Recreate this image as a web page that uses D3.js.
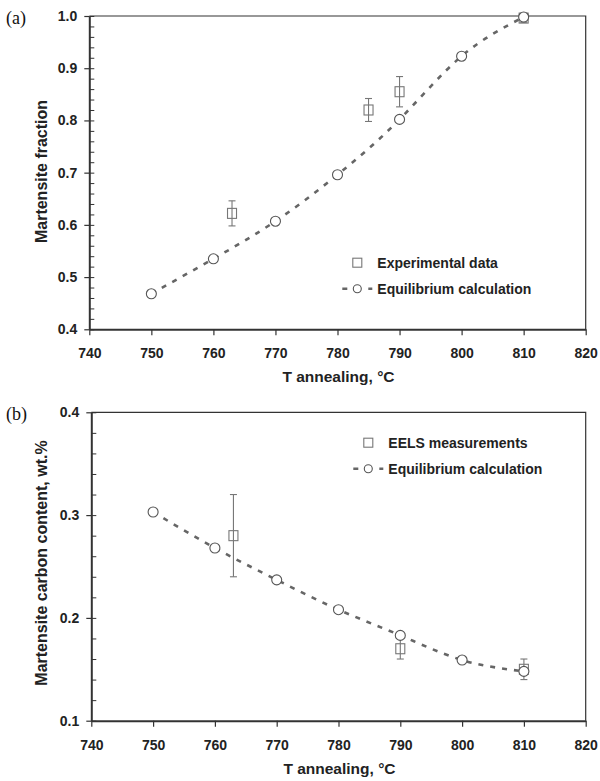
<!DOCTYPE html>
<html>
<head>
<meta charset="utf-8">
<script src="https://cdn.jsdelivr.net/npm/d3@7"></script>
<style>
  body { margin: 0; background: #fff; }
  svg text { font-family: "Liberation Sans", Arial, sans-serif; font-weight: bold; fill: #222; }
  svg text.letter { font-family: "Liberation Serif", "Times New Roman", serif; font-weight: normal; fill: #111; }
</style>
</head>
<body>
<div id="chart"></div>
<script>
// Annealing temperatures for the calculation curve
var eqTemps = [750, 760, 770, 780, 790, 800, 810];
// (a) martensite fraction
var eqFraction = [0.468, 0.535, 0.607, 0.696, 0.802, 0.923, 0.998];
var expTemps = [763, 785, 790, 810];
var expFraction = [0.622, 0.820, 0.855, 0.996];
var expFractionErr = [0.024, 0.022, 0.029, 0.008];
// (b) martensite carbon content
var eqCarbon = [0.303, 0.268, 0.237, 0.208, 0.183, 0.159, 0.148];
var eelsTemps = [763, 790, 810];
var eelsCarbon = [0.280, 0.170, 0.150];
var eelsErr = [0.040, 0.010, 0.010];

var xTicks = [740, 750, 760, 770, 780, 790, 800, 810, 820];
var yTicksA = [0.4, 0.5, 0.6, 0.7, 0.8, 0.9, 1.0];
var yTicksB = [0.1, 0.2, 0.3, 0.4];

var svgWidth = 600;
var svgHeight = 781;

var svg = d3.select("#chart")
  .append("svg")
  .attr("width", svgWidth)
  .attr("height", svgHeight);

// draw one panel
function panel(opts) {
  var x = d3.scaleLinear().domain([740, 820]).range([opts.left, opts.right]);
  var y = d3.scaleLinear().domain(opts.yDomain).range([opts.bottom, opts.top]);
  var g = svg.append("g");

  // frame top / right
  g.append("path")
    .attr("d", `M${opts.left},${opts.top}H${opts.right}V${opts.bottom}`)
    .attr("fill", "none")
    .attr("stroke", "#333")
    .attr("stroke-width", 1.2);

  // minor y ticks, inside
  var minor = d3.range(opts.yDomain[0], opts.yDomain[1] + 1e-9, opts.minorStep);
  g.append("g")
    .attr("transform", `translate(${opts.left},0)`)
    .call(d3.axisLeft(y).tickValues(minor).tickSize(-5).tickSizeOuter(0).tickFormat(""))
    .call(a => a.select(".domain").remove())
    .selectAll("line").attr("stroke", "#333");

  // y axis
  var yAxis = g.append("g")
    .attr("transform", `translate(${opts.left},0)`)
    .call(d3.axisLeft(y).tickValues(opts.yTicks).tickSize(5).tickSizeOuter(0)
      .tickPadding(7).tickFormat(d3.format(".1f")));
  yAxis.select(".domain").attr("stroke", "#333").attr("stroke-width", 2);
  yAxis.selectAll("line").attr("stroke", "#333").attr("stroke-width", 1.2);
  yAxis.selectAll("text").style("font-size", "14px");

  // x axis
  var xAxis = g.append("g")
    .attr("transform", `translate(0,${opts.bottom})`)
    .call(d3.axisBottom(x).tickValues(xTicks).tickSize(6).tickSizeOuter(0).tickPadding(13));
  xAxis.select(".domain").attr("stroke", "#333").attr("stroke-width", 2);
  xAxis.selectAll("line").attr("stroke", "#333").attr("stroke-width", 1.2);
  xAxis.selectAll("text").style("font-size", "14px");

  // axis titles
  g.append("text")
    .attr("x", (opts.left + opts.right) / 2 + 1)
    .attr("y", opts.bottom + 53)
    .attr("text-anchor", "middle")
    .style("font-size", "15.5px")
    .text("T annealing, °C");
  g.append("text")
    .attr("transform", `translate(47,${opts.yTitleMid}) rotate(-90)`)
    .attr("text-anchor", "middle")
    .style("font-size", "16px")
    .text(opts.yTitle);

  // panel letter
  g.append("text")
    .attr("class", "letter")
    .attr("x", 6).attr("y", opts.top + 8)
    .style("font-size", "18px")
    .text(opts.letter);

  // calculation curve
  var eq = eqTemps.map((t, i) => [t, opts.eqValues[i]]);
  var line = d3.line().x(d => x(d[0])).y(d => y(d[1])).curve(d3.curveNatural);
  g.append("path")
    .datum(eq)
    .attr("d", line)
    .attr("fill", "none")
    .attr("stroke", "#666")
    .attr("stroke-width", 2.6)
    .attr("stroke-dasharray", "5,7");

  // error bars
  var exp = opts.expT.map((t, i) => ({ t: t, v: opts.expV[i], e: opts.expE[i] }));
  var eb = g.append("g").attr("stroke", "#777").attr("stroke-width", 1.1);
  eb.selectAll(".v").data(exp).join("line")
    .attr("x1", d => x(d.t)).attr("x2", d => x(d.t))
    .attr("y1", d => y(d.v - d.e)).attr("y2", d => y(d.v + d.e));
  eb.selectAll(".c1").data(exp).join("line")
    .attr("x1", d => x(d.t) - 3.5).attr("x2", d => x(d.t) + 3.5)
    .attr("y1", d => y(d.v + d.e)).attr("y2", d => y(d.v + d.e));
  eb.selectAll(".c2").data(exp).join("line")
    .attr("x1", d => x(d.t) - 3.5).attr("x2", d => x(d.t) + 3.5)
    .attr("y1", d => y(d.v - d.e)).attr("y2", d => y(d.v - d.e));

  // squares
  g.selectAll(".sq").data(exp).join("rect")
    .attr("x", d => x(d.t) - 4.5).attr("y", d => y(d.v) - 5)
    .attr("width", 9).attr("height", 10)
    .attr("fill", "none").attr("stroke", "#777").attr("stroke-width", 1.1);

  // circles
  g.selectAll(".ci").data(eq).join("circle")
    .attr("cx", d => x(d[0])).attr("cy", d => y(d[1])).attr("r", 5)
    .attr("fill", "#fff").attr("stroke", "#555").attr("stroke-width", 1.1);

  // legend
  var lg = g.append("g").attr("transform", `translate(${opts.legX},${opts.legY})`);
  lg.append("rect").attr("x", -4.5).attr("y", -4.5).attr("width", 9).attr("height", 9)
    .attr("fill", "none").attr("stroke", "#777").attr("stroke-width", 1.1);
  lg.append("text").attr("x", 20).attr("y", 5)
    .style("font-size", "14px")
    .text(opts.expLabel);
  lg.append("line").attr("x1", -15).attr("x2", 15).attr("y1", 26).attr("y2", 26)
    .attr("stroke", "#666").attr("stroke-width", 2.6).attr("stroke-dasharray", "5,21");
  lg.append("circle").attr("cx", 0).attr("cy", 26).attr("r", 4)
    .attr("fill", "#fff").attr("stroke", "#555").attr("stroke-width", 1.1);
  lg.append("text").attr("x", 20).attr("y", 31)
    .style("font-size", "14px")
    .text("Equilibrium calculation");
}

panel({
  left: 89.3, right: 585.7, top: 16, bottom: 329.3,
  yDomain: [0.4, 1.0], yTicks: yTicksA, minorStep: 0.02,
  yTitle: "Martensite fraction", yTitleMid: 171.5, letter: "(a)",
  eqValues: eqFraction, expT: expTemps, expV: expFraction, expE: expFractionErr,
  expLabel: "Experimental data", legX: 357.3, legY: 262.7
});

panel({
  left: 91.3, right: 585.7, top: 412.3, bottom: 720.7,
  yDomain: [0.1, 0.4], yTicks: yTicksB, minorStep: 0.02,
  yTitle: "Martensite carbon content, wt.%", yTitleMid: 563, letter: "(b)",
  eqValues: eqCarbon, expT: eelsTemps, expV: eelsCarbon, expE: eelsErr,
  expLabel: "EELS measurements", legX: 368.3, legY: 442.7
});
</script>
</body>
</html>
